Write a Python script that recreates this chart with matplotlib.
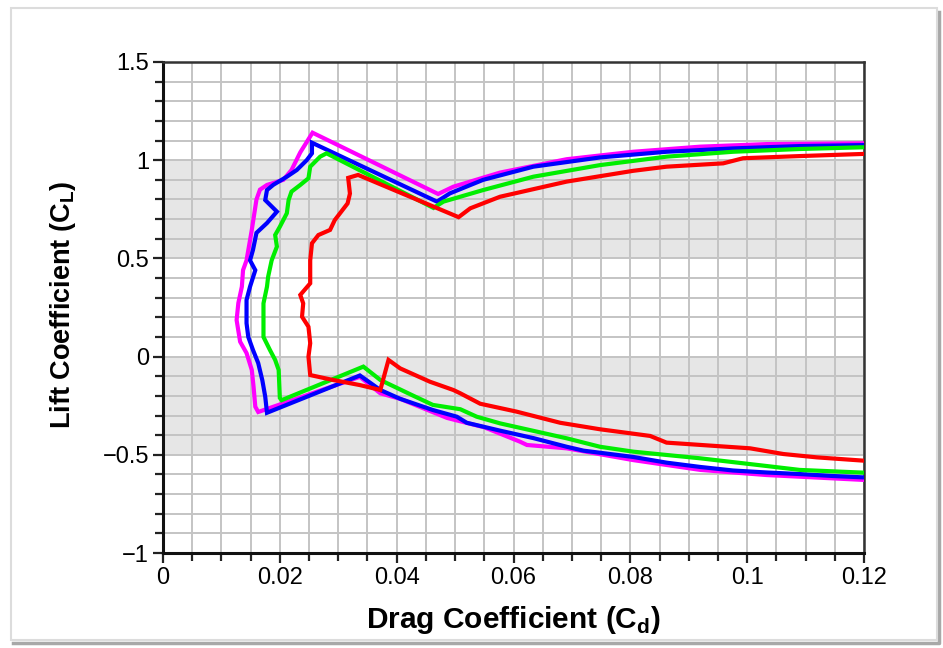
import matplotlib
matplotlib.use("Agg")
import matplotlib.pyplot as plt
from matplotlib.lines import Line2D
from matplotlib.patches import Rectangle
from matplotlib.ticker import MultipleLocator, FixedLocator

plt.rcParams["font.family"] = ["Liberation Sans", "DejaVu Sans"]
plt.rcParams["mathtext.fontset"] = "custom"
plt.rcParams["mathtext.rm"] = "Liberation Sans:bold"
plt.rcParams["mathtext.bf"] = "Liberation Sans:bold"
plt.rcParams["axes.unicode_minus"] = True

# drag polar, one curve per configuration: upper branch (right -> left), nose, lower branch
cd_magenta = [0.12, 0.1033, 0.092, 0.0805, 0.0691, 0.0577, 0.0497, 0.0471,
              0.0256, 0.0235, 0.022, 0.0206, 0.0178, 0.0166, 0.016, 0.0152, 0.0143,
              0.0137, 0.0135, 0.0129, 0.0126, 0.0132, 0.0143, 0.0152, 0.0155, 0.0158,
              0.0163, 0.0337, 0.0372, 0.0406, 0.0486, 0.0503, 0.055, 0.0611, 0.0623,
              0.0691, 0.0805, 0.092, 0.1033, 0.12]
cl_magenta = [1.086, 1.082, 1.069, 1.043, 1.005, 0.937, 0.865, 0.828,
              1.14, 1.04, 0.95, 0.90, 0.874, 0.85, 0.80, 0.645, 0.49,
              0.44, 0.356, 0.273, 0.186, 0.076, 0.018, -0.068, -0.153, -0.255,
              -0.282, -0.103, -0.187, -0.215, -0.312, -0.325, -0.36, -0.433, -0.45,
              -0.467, -0.527, -0.577, -0.603, -0.628]

cd_blue = [0.12, 0.109, 0.0976, 0.0862, 0.0748, 0.0634, 0.0548, 0.0491, 0.0469,
           0.0255, 0.0255, 0.0246, 0.0229, 0.0212, 0.0189, 0.0178, 0.0175, 0.0195,
           0.0178, 0.016, 0.0154, 0.0149, 0.0158, 0.0149, 0.0143, 0.0143, 0.0146,
           0.0154, 0.0163, 0.017, 0.0175, 0.0178, 0.0337, 0.0372, 0.0406, 0.0462,
           0.0503, 0.052, 0.0577, 0.0634, 0.0691, 0.072, 0.0805, 0.0862, 0.092,
           0.0976, 0.1033, 0.109, 0.1147, 0.12]
cl_blue = [1.077, 1.072, 1.06, 1.043, 1.014, 0.967, 0.9, 0.831, 0.789,
           1.089, 1.035, 1.0, 0.95, 0.916, 0.875, 0.848, 0.797, 0.738,
           0.68, 0.63, 0.543, 0.49, 0.44, 0.356, 0.288, 0.17, 0.10,
           0.034, -0.033, -0.12, -0.204, -0.286, -0.096, -0.17, -0.215, -0.272,
           -0.306, -0.337, -0.377, -0.415, -0.459, -0.479, -0.511, -0.54, -0.562,
           -0.58, -0.59, -0.598, -0.608, -0.615]

cd_green = [0.12, 0.109, 0.0976, 0.0862, 0.0748, 0.0634, 0.0548, 0.048, 0.0463,
            0.028, 0.0269, 0.0252, 0.0249, 0.0235, 0.022, 0.0215, 0.0212, 0.02,
            0.0192, 0.0195, 0.0186, 0.018, 0.0178, 0.0172, 0.0172, 0.0183, 0.0192,
            0.0198, 0.02, 0.0203, 0.0343, 0.0372, 0.0429, 0.0462, 0.0509, 0.0537,
            0.0577, 0.0691, 0.0748, 0.0805, 0.092, 0.1033, 0.109, 0.12]
cl_green = [1.066, 1.057, 1.043, 1.018, 0.975, 0.916, 0.848, 0.789, 0.757,
            1.035, 1.018, 0.967, 0.908, 0.874, 0.84, 0.797, 0.73, 0.661,
            0.619, 0.56, 0.49, 0.407, 0.356, 0.271, 0.10, 0.034, -0.017,
            -0.068, -0.21, -0.222, -0.051, -0.119, -0.2, -0.246, -0.268, -0.306,
            -0.34, -0.416, -0.459, -0.484, -0.518, -0.557, -0.577, -0.591]

cd_red = [0.12, 0.109, 0.0993, 0.0959, 0.0862, 0.0805, 0.0691, 0.0577, 0.0526,
          0.0506, 0.0334, 0.0317, 0.032, 0.0316, 0.0294, 0.0286, 0.0266, 0.0255,
          0.0252, 0.0252, 0.0235, 0.024, 0.0238, 0.0249, 0.0252, 0.0249, 0.0252,
          0.0291, 0.0337, 0.0372, 0.0386, 0.0406, 0.0457, 0.0497, 0.0509, 0.0543,
          0.0605, 0.068, 0.0748, 0.0834, 0.0862, 0.1005, 0.1062, 0.1119, 0.12]
cl_red = [1.032, 1.021, 1.01, 0.984, 0.967, 0.946, 0.891, 0.814, 0.755,
          0.71, 0.925, 0.91, 0.83, 0.78, 0.695, 0.645, 0.619, 0.577,
          0.49, 0.373, 0.314, 0.271, 0.203, 0.152, 0.068, 0.0, -0.094,
          -0.119, -0.145, -0.17, -0.017, -0.06, -0.128, -0.17, -0.187, -0.24,
          -0.28, -0.337, -0.37, -0.404, -0.438, -0.467, -0.496, -0.513, -0.53]

series = [
    (cd_magenta, cl_magenta, "#ff00ff"),
    (cd_blue, cl_blue, "#0000ff"),
    (cd_green, cl_green, "#00ee00"),
    (cd_red, cl_red, "#ff0000"),
]

x_ticks = [0, 0.02, 0.04, 0.06, 0.08, 0.1, 0.12]
x_labels = ["0", "0.02", "0.04", "0.06", "0.08", "0.1", "0.12"]
y_ticks = [-1, -0.5, 0, 0.5, 1, 1.5]
y_labels = ["\u22121", "\u22120.5", "0", "0.5", "1", "1.5"]
shaded_bands = [(0.5, 1.0), (-0.5, 0.0)]

W, H = 943, 648
fig = plt.figure(figsize=(W / 100, H / 100), dpi=100, facecolor="white")

# picture frame: light outline, darker shadow along the right and bottom edges
fig.patches.append(Rectangle((11 / W, 1 - 640 / H), 926 / W, 632 / H,
                             transform=fig.transFigure, facecolor="none",
                             edgecolor="#dcdcdc", linewidth=1.5, zorder=-5))
fig.lines.append(Line2D([13 / W, 939 / W, 939 / W], [1 - 643 / H, 1 - 643 / H, 1 - 12 / H],
                        transform=fig.transFigure, color="#a8a8a8", linewidth=2.5,
                        zorder=-5))

ax = fig.add_axes([163 / W, 1 - 553 / H, 701 / W, 491 / H])
ax.set_xlim(0, 0.12)
ax.set_ylim(-1, 1.5)

for lo, hi in shaded_bands:
    ax.axhspan(lo, hi, color="#e6e6e6", zorder=0, lw=0)

ax.xaxis.set_major_locator(FixedLocator(x_ticks))
ax.set_xticklabels(x_labels)
ax.yaxis.set_major_locator(FixedLocator(y_ticks))
ax.set_yticklabels(y_labels)
ax.xaxis.set_minor_locator(MultipleLocator(0.005))
ax.yaxis.set_minor_locator(MultipleLocator(0.1))
ax.grid(True, which="both", color="#c4c4c4", linewidth=1.4, zorder=1)
ax.set_axisbelow(True)

for cd, cl, color in series:
    ax.plot(cd, cl, color=color, linewidth=3.0, solid_joinstyle="miter", zorder=3)

ax.tick_params(which="both", direction="out", width=1.6, color="#222222",
               labelsize=17, pad=3, top=False, right=False)
ax.tick_params(which="major", length=7)
ax.tick_params(which="minor", length=6)

for side in ["left", "bottom"]:
    ax.spines[side].set_linewidth(2.2)
    ax.spines[side].set_color("#111111")
for side in ["top", "right"]:
    ax.spines[side].set_linewidth(1.8)
    ax.spines[side].set_color("#333333")

ax.set_xlabel(r"Drag Coefficient (C$_\mathbf{d}$)", fontsize=21.5, fontweight="bold")
ax.set_ylabel(r"Lift Coefficient (C$_\mathbf{L}$)", fontsize=19.5, fontweight="bold")
ax.xaxis.set_label_coords(0.5, -0.104)
ax.yaxis.set_label_coords(-0.121, 0.505)

fig.savefig("out.png", dpi=100, facecolor="white")
